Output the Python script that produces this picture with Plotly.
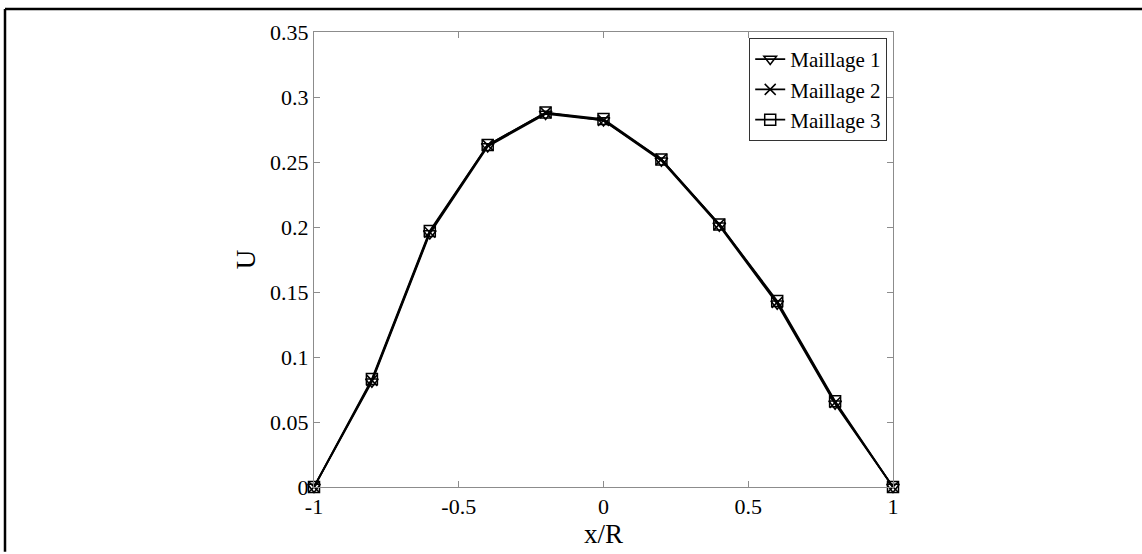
import plotly.graph_objects as go

# Radial positions and velocity profiles for the three meshes
x_over_r = [-1.0, -0.8, -0.6, -0.4, -0.2, 0.0, 0.2, 0.4, 0.6, 0.8, 1.0]
u_mesh1 = [0.0, 0.081, 0.195, 0.262, 0.287, 0.282, 0.251, 0.201, 0.141, 0.064, 0.0]
u_mesh2 = [0.0, 0.082, 0.196, 0.263, 0.288, 0.282, 0.252, 0.202, 0.142, 0.065, 0.0]
u_mesh3 = [0.0, 0.083, 0.197, 0.263, 0.288, 0.283, 0.252, 0.202, 0.143, 0.066, 0.0]

series_names = ["Maillage 1", "Maillage 2", "Maillage 3"]
x_ticks = [-1, -0.5, 0, 0.5, 1]
x_tick_text = ["-1", "-0.5", "0", "0.5", "1"]
y_ticks = [0, 0.05, 0.1, 0.15, 0.2, 0.25, 0.3, 0.35]
y_tick_text = ["0", "0.05", "0.1", "0.15", "0.2", "0.25", "0.3", "0.35"]

W, H = 1142, 554
L, R, T, B = 314, 249, 32, 65
pw, ph = W - L - R, H - T - B

FONT = "Liberation Serif"
AXIS_GREY = "#8c8c8c"

fig = go.Figure()
symbols = ["triangle-down-open", "x-thin-open", "square-open"]
for name, ys, sym in zip(series_names, [u_mesh1, u_mesh2, u_mesh3], symbols):
    fig.add_trace(go.Scatter(
        x=x_over_r, y=ys, name=name, mode="lines+markers",
        line=dict(color="black", width=1.8),
        marker=dict(symbol=sym, size=11, color="black",
                    line=dict(color="black", width=1.5)),
        cliponaxis=False,
    ))

# Frame drawn along the top and left edges of the figure
fig.add_shape(type="line", xref="paper", yref="paper",
              x0=(5 - L) / pw, x1=(W - L) / pw,
              y0=1 + (T - 9) / ph, y1=1 + (T - 9) / ph,
              line=dict(color="black", width=2.5))
fig.add_shape(type="line", xref="paper", yref="paper",
              x0=(5 - L) / pw, x1=(5 - L) / pw,
              y0=1 + (T - 9) / ph, y1=-B / ph,
              line=dict(color="black", width=2.5))

axis_common = dict(
    showline=True, linecolor=AXIS_GREY, linewidth=1, mirror="ticks",
    ticks="inside", ticklen=6, tickcolor=AXIS_GREY, tickwidth=1,
    showgrid=False, zeroline=False,
    tickfont=dict(family=FONT, size=22, color="black"),
)

fig.update_layout(
    width=W, height=H,
    margin=dict(l=L, r=R, t=T, b=B),
    paper_bgcolor="white", plot_bgcolor="white",
    font=dict(family=FONT, color="black"),
    showlegend=True,
    legend=dict(
        x=0.99, y=0.987, xanchor="right", yanchor="top",
        bgcolor="white", bordercolor="#333333", borderwidth=1,
        font=dict(family=FONT, size=21, color="black"),
        tracegroupgap=0, itemwidth=30,
    ),
    xaxis=dict(
        **axis_common, range=[-1, 1], tickvals=x_ticks, ticktext=x_tick_text,
        title=dict(text="x/R", font=dict(family=FONT, size=27), standoff=4),
    ),
    yaxis=dict(
        **axis_common, range=[0, 0.35], tickvals=y_ticks, ticktext=y_tick_text,
        title=dict(text="U", font=dict(family=FONT, size=27), standoff=6),
    ),
)

fig.write_html("out.html")
